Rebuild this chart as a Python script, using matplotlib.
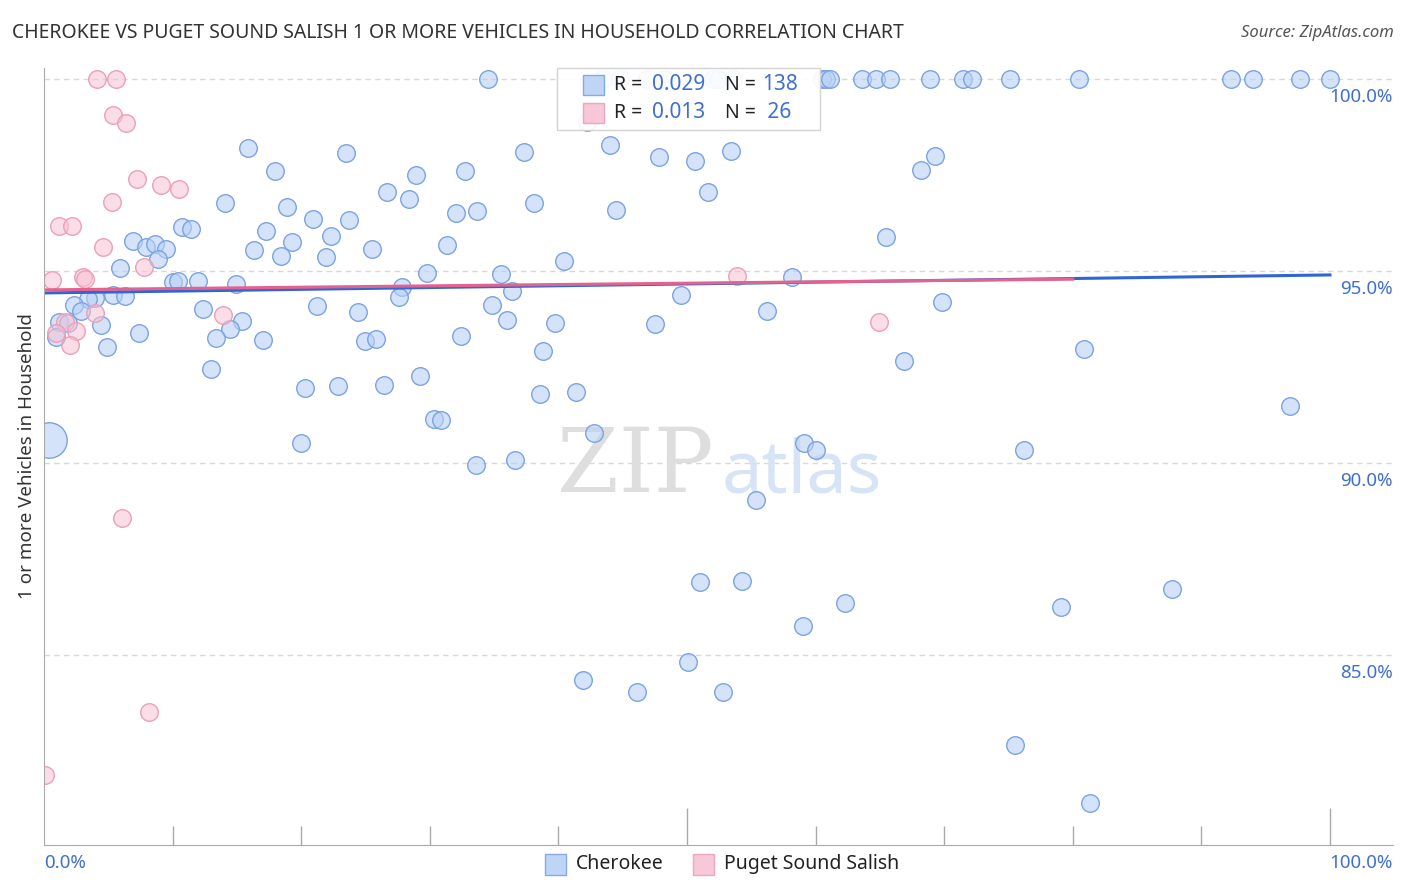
import numpy as np
import matplotlib
matplotlib.use('Agg')
import matplotlib.pyplot as plt
from matplotlib.patches import Rectangle
import matplotlib.transforms as mtransforms

plt.rcParams['font.family'] = ['Noto Sans', 'DejaVu Sans']

# Cherokee (x: % , y: %)
cherokee_x = [34.5, 43.5, 44.8, 46.9, 48.3, 52.0, 52.4, 53.6, 60.5, 60.8, 61.1, 63.6, 64.7, 65.8,
              68.9, 71.5, 72.2, 75.1, 80.5, 92.3, 94.0, 97.7, 100.0,
              42.2, 15.9, 23.5, 37.3, 44.0, 47.8, 50.6, 53.4, 69.3,
              18.0, 32.7, 28.9, 68.2, 26.7, 51.6, 28.4, 14.1, 18.9, 38.1, 44.5,
              20.9, 23.7, 32.0, 33.7, 10.7, 11.4, 17.3, 22.3, 65.5,
              6.9, 7.9, 8.6, 9.5, 19.3, 31.3, 16.3, 25.5, 18.4, 8.9, 21.9, 40.4,
              5.9, 29.8, 35.5, 58.2, 10.0, 10.4, 12.0, 14.9, 27.8, 36.4,
              4.0, 3.4, 5.4, 6.3, 27.6, 49.5, 69.8,
              2.3, 2.9, 12.4, 21.2, 34.8, 56.2, 24.4,
              36.0, 1.2, 1.9, 4.4, 15.4, 39.7, 47.5,
              14.5, 7.4, 32.4, 0.9, 13.4, 17.0, 25.0, 25.8,
              4.9, 38.8, 80.9, 66.9, 13.0,
              29.2, 20.3, 22.9, 26.4, 38.6, 41.4,
              96.9, 30.3, 30.9, 42.8, 20.0, 59.1, 60.0, 76.2,
              33.6, 36.6, 55.4,
              51.0, 54.3, 87.7, 62.3, 79.1, 59.0, 50.1, 41.9, 46.1, 52.8, 75.5, 81.3]
cherokee_y = [100.0] * 23 + \
             [98.88, 98.20, 98.07, 98.10, 98.28, 97.97, 97.86, 98.13, 97.99,
              97.60, 97.60, 97.50, 97.63, 97.06, 97.06, 96.88, 96.77, 96.67, 96.77, 96.59,
              96.35, 96.33, 96.51, 96.56, 96.15, 96.09, 96.04, 95.91, 95.89,
              95.78, 95.63, 95.70, 95.57, 95.76, 95.68, 95.55, 95.57, 95.39, 95.31, 95.36, 95.26,
              95.08, 94.95, 94.92, 94.84, 94.71, 94.74, 94.74, 94.66, 94.58, 94.48,
              94.30, 94.27, 94.38, 94.35, 94.32, 94.38, 94.19,
              94.11, 93.96, 94.01, 94.09, 94.11, 93.96, 93.93,
              93.72, 93.67, 93.65, 93.59, 93.70, 93.65, 93.62,
              93.49, 93.39, 93.31, 93.28, 93.26, 93.20, 93.18, 93.23,
              93.02, 92.92, 92.97, 92.66, 92.45,
              92.27, 91.95, 92.01, 92.03, 91.80, 91.85,
              91.48, 91.15, 91.12, 90.78, 90.52, 90.52, 90.34, 90.34,
              89.95, 90.08, 89.04,
              86.90, 86.93, 86.72, 86.35, 86.25, 85.76, 84.82, 84.35, 84.04, 84.04, 82.66, 81.15]
cherokee_big_x = [0.4]
cherokee_big_y = [90.60]

# Puget Sound Salish
salish_x = [4.1, 5.6, 5.4, 6.4, 7.2, 9.1, 10.5, 5.3, 1.2, 2.2, 4.6, 0.6, 3.0, 3.2, 7.8,
            4.0, 1.6, 2.5, 0.9, 2.0, 13.9, 6.1, 8.2, 0.1, 53.9, 64.9]
salish_y = [100.0, 100.0, 99.06, 98.85, 97.40, 97.24, 97.14, 96.80, 96.17, 96.17, 95.63,
            94.77, 94.84, 94.79, 95.10, 93.91, 93.67, 93.44, 93.39, 93.07, 93.85, 88.57,
            83.52, 81.88, 94.87, 93.67]

# trend lines (x range, y at ends)
cherokee_trend_x = [0, 100]
cherokee_trend_y = [94.43, 94.90]
salish_trend_x = [0, 80]
salish_trend_y = [94.51, 94.79]

y_ticks = [100, 95, 90, 85]
y_labels = ['100.0%', '95.0%', '90.0%', '85.0%']
x_minor = [10, 20, 30, 40, 60, 70, 80, 90]
x_major = [50, 100]

blue_face = (0.72, 0.82, 0.96, 0.6)
blue_edge = '#7ba3e3'
pink_face = (0.97, 0.76, 0.83, 0.55)
pink_edge = '#eca0b8'
label_blue = '#3f6fd1'

fig = plt.figure(figsize=(14.06, 8.92), dpi=100)
ax = fig.add_axes([44/1406, 1-845/892, (1393-44)/1406, (845-68)/892])
ax.set_xlim(0, 104.9)
ax.set_ylim(80.05, 100.29)

for t in y_ticks:
    ax.axhline(t, color='#d8d8d8', lw=1, ls=(0, (4, 3)), zorder=0)

# watermark
ax.text(46.0, 89.24, 'ZIP', fontsize=64, family='DejaVu Serif',
        color='#dedede', ha='center', va='baseline', zorder=0)
ax.text(58.9, 89.24, 'atlas', fontsize=52,
        color='#d6e4f6', ha='center', va='baseline', zorder=0)

ax.scatter(cherokee_x, cherokee_y, s=160, facecolor=blue_face, edgecolor=blue_edge, lw=1.0, zorder=2)
big = ax.scatter(cherokee_big_x, cherokee_big_y, s=650, facecolor=blue_face, edgecolor=blue_edge, lw=1.0, zorder=2)
big.set_clip_path(ax.patch)
ax.scatter(salish_x, salish_y, s=160, facecolor=pink_face, edgecolor=pink_edge, lw=1.0, zorder=3)

ax.plot(cherokee_trend_x, cherokee_trend_y, color='#2f66d4', lw=2.2, zorder=4)
ax.plot(salish_trend_x, salish_trend_y, color='#e4628e', lw=2.2, zorder=5)

for sp in ['top', 'right']:
    ax.spines[sp].set_visible(False)
ax.spines['left'].set_color('#aaaaaa')
ax.spines['bottom'].set_color('#aaaaaa')
ax.spines['left'].set_zorder(6)
ax.set_xticks([])
ax.set_yticks([])

trans = mtransforms.blended_transform_factory(ax.transData, ax.transAxes)
ax.vlines(x_minor, 0, 0.025, color='#aaaaaa', lw=1, transform=trans, clip_on=False)
ax.vlines(x_major, 0, 0.048, color='#aaaaaa', lw=1, transform=trans, clip_on=False)

for t, lab in zip(y_ticks, y_labels):
    ax.text(104.9, t - 0.47, lab, color=label_blue, fontsize=13.5, ha='right', va='center')

fig.text(44/1406, 1-863/892, '0.0%', color=label_blue, fontsize=13.5, ha='left', va='center')
fig.text(1393/1406, 1-863/892, '100.0%', color=label_blue, fontsize=13.5, ha='right', va='center')

ax.set_ylabel('1 or more Vehicles in Household', fontsize=13.5, color='#333333', labelpad=6)

fig.text(12/1406, 1-33/892, 'CHEROKEE VS PUGET SOUND SALISH 1 OR MORE VEHICLES IN HOUSEHOLD CORRELATION CHART',
         fontsize=14, color='#333333', ha='left', va='center')
fig.text(1394/1406, 1-33/892, 'Source: ZipAtlas.com', fontsize=12, style='italic',
         color='#555555', ha='right', va='center')

# top legend box
fig.patches.append(Rectangle((557/1406, 1-130/892), 263/1406, 62/892, transform=fig.transFigure,
                             facecolor='white', edgecolor='#d0d0d0', lw=1, alpha=0.92, zorder=10))
rows = [(85, blue_face, blue_edge, '0.029', '138'), (113, pink_face, pink_edge, '0.013', ' 26')]
for yy, fc, ec, r, n in rows:
    fig.patches.append(Rectangle((583/1406, 1-(yy+10)/892), 21/1406, 20/892, transform=fig.transFigure,
                                 facecolor=fc[:3], edgecolor=ec, lw=1, alpha=0.9, zorder=11))
    fig.text(614/1406, 1-yy/892, 'R = ', fontsize=14, color='#222222', va='center', zorder=12)
    fig.text(652/1406, 1-yy/892, r, fontsize=15, color=label_blue, va='center', zorder=12)
    fig.text(725/1406, 1-yy/892, 'N = ', fontsize=14, color='#222222', va='center', zorder=12)
    fig.text(762/1406, 1-yy/892, n, fontsize=15, color=label_blue, va='center', zorder=12)

# bottom legend
for x0, fc, ec, name in [(545, blue_face, blue_edge, 'Cherokee'), (693, pink_face, pink_edge, 'Puget Sound Salish')]:
    fig.patches.append(Rectangle((x0/1406, 1-875/892), 21/1406, 21/892, transform=fig.transFigure,
                                 facecolor=fc[:3], edgecolor=ec, lw=1, alpha=0.9))
    fig.text((x0+31)/1406, 1-864/892, name, fontsize=14, color='#222222', va='center')

fig.savefig('out.png', dpi=100)
